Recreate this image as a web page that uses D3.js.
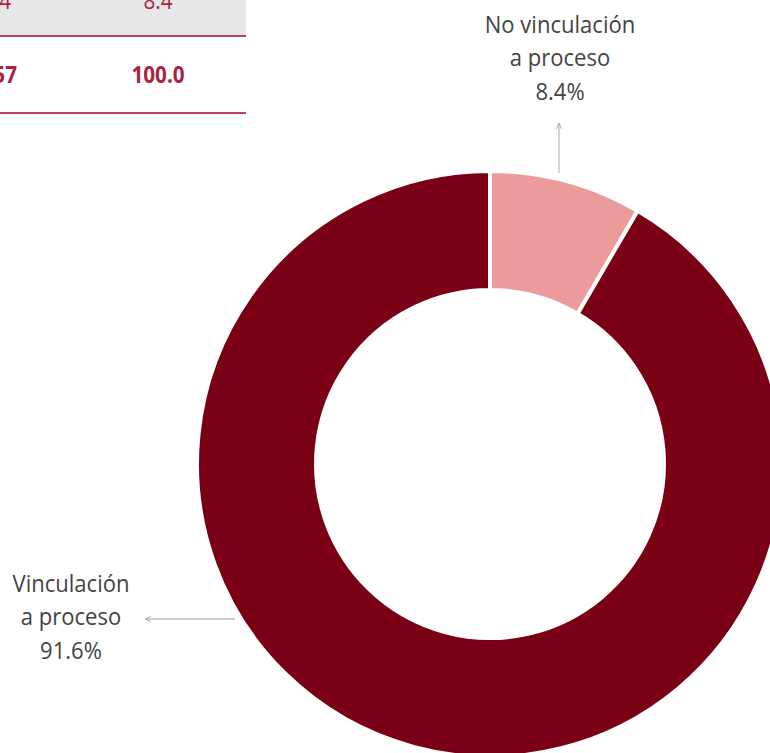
<!DOCTYPE html>
<html>
<head>
<meta charset="utf-8">
<script src="https://cdn.jsdelivr.net/npm/d3@7"></script>
<style>
  html, body { margin: 0; padding: 0; background: #fff; }
  svg { display: block; }
</style>
</head>
<body>
<svg id="chart" width="770" height="753"></svg>
<script>
// ---- data ----
const categories = ["No vinculación a proceso", "Vinculación a proceso"];
const labelLines = [["No vinculación", "a proceso"], ["Vinculación", "a proceso"]];
const values = [8.4, 91.6];
const colors = ["#ec9b9b", "#7a0015"];
// table fragment (partially cut off in the reference)
const tableCol1 = ["1,254", "1,357"];
const tableCol2 = ["8.4", "100.0"];

// ---- layout ----
const W = 770, H = 753;
const cx = 490, cy = 464, rOuter = 293, rInner = 174;
const svg = d3.select("#chart");
const font = "'Open Sans', 'Noto Sans', sans-serif";
const condense = 0.9;

// table fragment
const tbl = svg.append("g");
tbl.append("rect").attr("x", 0).attr("y", -10).attr("width", 246).attr("height", 45).attr("fill", "#e6e7e8");
[36, 113].forEach(y => tbl.append("line").attr("x1", 0).attr("x2", 246).attr("y1", y).attr("y2", y)
  .attr("stroke", "#c0405c").attr("stroke-width", 2));
const rowY = [9, 83];
function condText(parent, x, y, size) {
  return parent.append("text").attr("transform", `translate(${x},${y}) scale(${condense},1)`)
    .attr("font-family", font).attr("font-size", size);
}
tableCol1.forEach((t, i) => condText(tbl, i === 0 ? 11 : 17, rowY[i], 23)
  .attr("text-anchor", "end").attr("font-weight", i === 1 ? 700 : 400).attr("fill", "#a8233f").text(t));
tableCol2.forEach((t, i) => condText(tbl, 158, rowY[i], 23)
  .attr("text-anchor", "middle").attr("font-weight", i === 1 ? 700 : 400).attr("fill", "#a8233f").text(t));

// donut
const data = categories.map((c, i) => ({ cat: c, value: values[i], color: colors[i], lines: labelLines[i] }));
const pie = d3.pie().sort(null).value(d => d.value).startAngle(0).endAngle(2 * Math.PI);
const arc = d3.arc().innerRadius(rInner).outerRadius(rOuter);
const arcs = pie(data);
const g = svg.append("g").attr("transform", `translate(${cx},${cy})`);
g.selectAll("path").data(arcs).join("path")
  .attr("d", arc).attr("fill", d => d.data.color)
  .attr("stroke", "#fff").attr("stroke-width", 4).attr("stroke-linejoin", "miter");

// arrow marker
const defs = svg.append("defs");
defs.append("marker").attr("id", "arr").attr("viewBox", "0 0 10 10").attr("refX", 9).attr("refY", 5)
  .attr("markerWidth", 5).attr("markerHeight", 5).attr("orient", "auto-start-reverse")
  .append("path").attr("d", "M0,1 L9,5 L0,9").attr("fill", "none").attr("stroke", "#aaa").attr("stroke-width", 1.5);

// leader lines
const lineColor = "#bdbdbd";
svg.append("line").attr("x1", 559).attr("y1", 173).attr("x2", 559).attr("y2", 123)
  .attr("stroke", lineColor).attr("stroke-width", 1.3).attr("marker-end", "url(#arr)");
svg.append("line").attr("x1", 235).attr("y1", 619).attr("x2", 145).attr("y2", 619)
  .attr("stroke", lineColor).attr("stroke-width", 1.3).attr("marker-end", "url(#arr)");

// labels
const labelPos = [{ x: 560, y: 33 }, { x: 71, y: 592 }];
arcs.forEach((a, i) => {
  const t = condText(svg, labelPos[i].x, labelPos[i].y, 24.5).attr("text-anchor", "middle").attr("fill", "#444");
  const lines = a.data.lines.concat([d3.format(".1f")(a.data.value) + "%"]);
  lines.forEach((l, k) => t.append("tspan").attr("x", 0).attr("y", k * 33.5).text(l));
});
</script>
</body>
</html>
